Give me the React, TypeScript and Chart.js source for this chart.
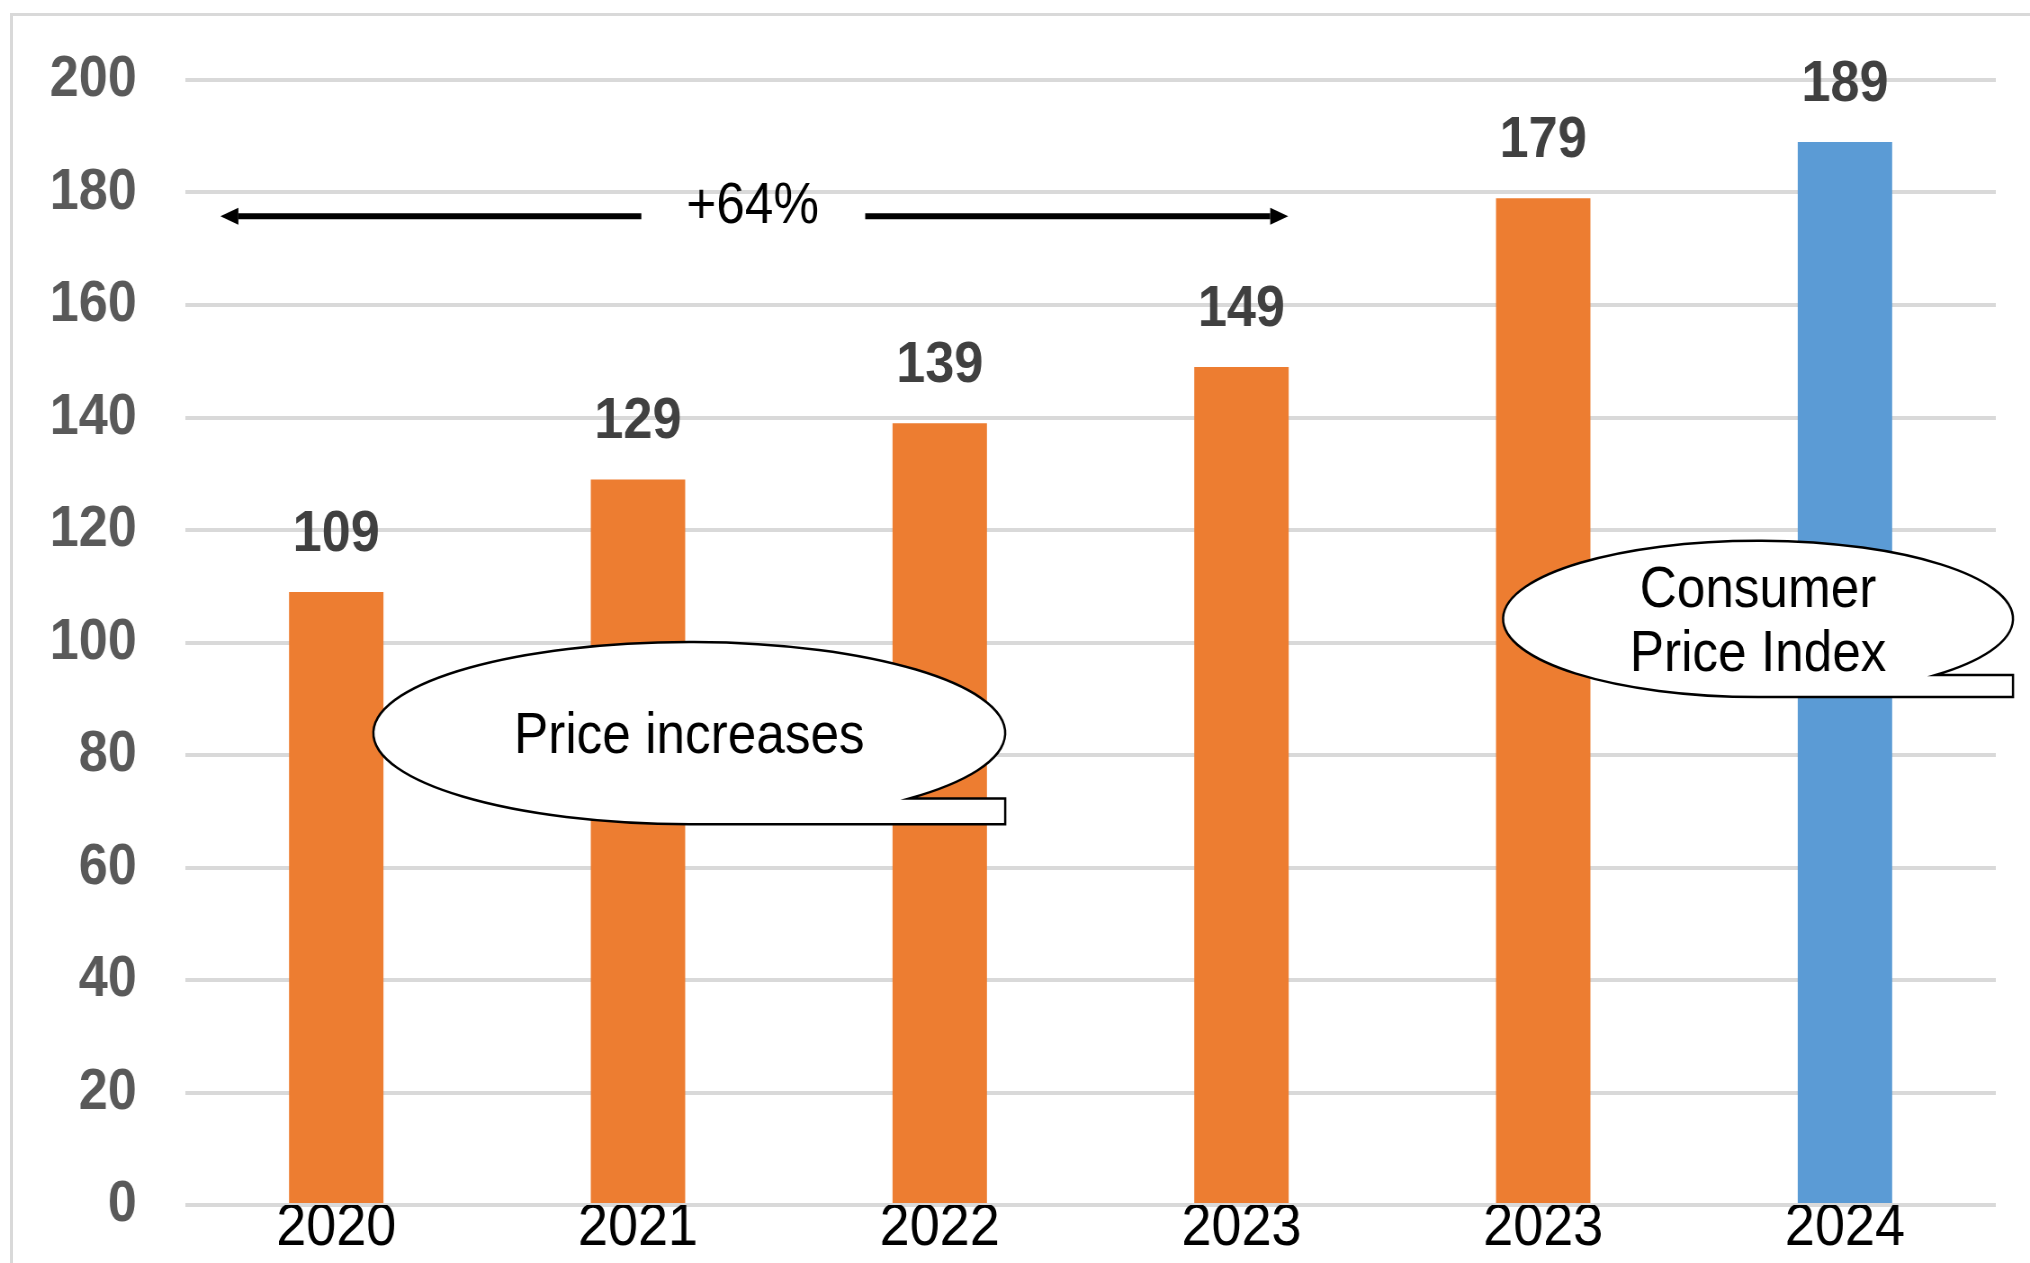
import React, { useEffect, useRef } from "react";
import { Chart, registerables } from "chart.js";

Chart.register(...registerables);

// ---- data ----
const categories = ["2020", "2021", "2022", "2023", "2023", "2024"];
const priceIndex = [109, 129, 139, 149, 179, 189];
const barColors = ["#ED7D31", "#ED7D31", "#ED7D31", "#ED7D31", "#ED7D31", "#5B9BD5"];
const yMin = 0;
const yMax = 200;
const yStep = 20;
const changeLabel = "+64%";
const bubbleTexts = [["Price increases"], ["Consumer", "Price Index"]];

// ---- annotation anchors (in category index / value units) ----
const arrowAnchor = { from: -0.384, to: 3.155, gapFrom: 1.011, gapTo: 1.753, value: 175.8, textAt: 1.38 };
const bubbleAnchors = [
  { cx: 1.17, cy: 83.9, rx: 1.047, ry: 16.2 },
  { cx: 4.712, cy: 104.2, rx: 0.845, ry: 13.9 },
];

// ---- layout ----
const OUT_W = 2030;
const OUT_H = 1263;
const SX = 0.9; // horizontal compression of the reference rendering
const IN_W = Math.round(OUT_W / SX);
const FONT = '"Liberation Sans", Arial, sans-serif';
const NOTE_SIZE = 57;

const valueLabels = {
  id: "valueLabels",
  afterDatasetsDraw(chart: any) {
    const ctx = chart.ctx;
    const meta = chart.getDatasetMeta(0);
    ctx.save();
    ctx.font = `bold 58px ${FONT}`;
    ctx.fillStyle = "#404040";
    ctx.textAlign = "center";
    ctx.textBaseline = "alphabetic";
    meta.data.forEach((bar: any, i: number) => {
      ctx.fillText(String(priceIndex[i]), bar.x, bar.y - 41);
    });
    ctx.restore();
  },
};

function drawArrowSeg(ctx: any, x0: number, x1: number, y: number) {
  const dir = x1 > x0 ? 1 : -1;
  const headLen = 20;
  const headHalf = 8.5;
  ctx.beginPath();
  ctx.moveTo(x0, y);
  ctx.lineTo(x1 - dir * headLen, y);
  ctx.stroke();
  ctx.beginPath();
  ctx.moveTo(x1, y);
  ctx.lineTo(x1 - dir * headLen, y - headHalf);
  ctx.lineTo(x1 - dir * headLen, y + headHalf);
  ctx.closePath();
  ctx.fill();
}

const annotations = {
  id: "annotations",
  afterDraw(chart: any) {
    const ctx = chart.ctx;
    const xs = chart.scales.x;
    const ys = chart.scales.y;
    ctx.save();

    // double arrow with label
    const ay = ys.getPixelForValue(arrowAnchor.value);
    ctx.strokeStyle = "#000";
    ctx.fillStyle = "#000";
    ctx.lineWidth = 6;
    drawArrowSeg(ctx, xs.getPixelForValue(arrowAnchor.gapFrom), xs.getPixelForValue(arrowAnchor.from), ay);
    drawArrowSeg(ctx, xs.getPixelForValue(arrowAnchor.gapTo), xs.getPixelForValue(arrowAnchor.to), ay);
    ctx.font = `${NOTE_SIZE}px ${FONT}`;
    ctx.textAlign = "center";
    ctx.textBaseline = "alphabetic";
    ctx.fillText(changeLabel, xs.getPixelForValue(arrowAnchor.textAt), ay + 7);

    // callout bubbles
    const t1 = 0.8;
    const capHalf = NOTE_SIZE * 0.358;
    bubbleAnchors.forEach((b, i) => {
      const cx = xs.getPixelForValue(b.cx);
      const cy = ys.getPixelForValue(b.cy);
      const rx = xs.getPixelForValue(b.cx + b.rx) - cx;
      const ry = ys.getPixelForValue(b.cy - b.ry) - cy;
      ctx.beginPath();
      ctx.ellipse(cx, cy, rx, ry, 0, t1, Math.PI / 2, true);
      ctx.lineTo(cx + rx, cy + ry);
      ctx.lineTo(cx + rx, cy + ry * Math.sin(t1));
      ctx.closePath();
      ctx.fillStyle = "#ffffff";
      ctx.fill();
      ctx.lineWidth = 2.5;
      ctx.strokeStyle = "#000";
      ctx.stroke();

      const lines = bubbleTexts[i];
      ctx.fillStyle = "#000";
      ctx.font = `${NOTE_SIZE}px ${FONT}`;
      ctx.textAlign = "center";
      ctx.textBaseline = "alphabetic";
      lines.forEach((ln, k) => {
        const by = cy + (k - (lines.length - 1) / 2) * 64 + capHalf;
        ctx.fillText(ln, cx, by);
      });
    });
    ctx.restore();
  },
};

export default function App() {
  const canvasRef = useRef<HTMLCanvasElement | null>(null);

  useEffect(() => {
    const canvas = canvasRef.current;
    if (!canvas) return;
    const chart = new Chart(canvas, {
      type: "bar",
      data: {
        labels: categories,
        datasets: [
          {
            data: priceIndex,
            backgroundColor: barColors,
            borderWidth: 0,
            barPercentage: 0.313,
            categoryPercentage: 1,
          },
        ],
      },
      options: {
        animation: false,
        responsive: false,
        devicePixelRatio: 1,
        layout: { padding: { left: 0, right: 38, top: 80, bottom: 0 } },
        plugins: {
          legend: { display: false },
          tooltip: { enabled: false },
        },
        scales: {
          x: {
            offset: true,
            grid: { display: false, drawTicks: false },
            border: { display: false },
            ticks: {
              color: "#000000",
              font: { family: FONT, size: 60 },
              padding: -13,
              maxRotation: 0,
              autoSkip: false,
            },
            afterFit: (s: any) => {
              s.height = 58;
              s.paddingLeft = 0;
              s.paddingRight = 0;
            },
          },
          y: {
            min: yMin,
            max: yMax,
            ticks: {
              stepSize: yStep,
              color: "#595959",
              font: { family: FONT, size: 58, weight: "bold" },
              padding: 54,
            },
            grid: { color: "#d9d9d9", lineWidth: 4, drawTicks: false },
            border: { display: false },
            afterFit: (s: any) => {
              s.width = 206;
              s.paddingTop = 0;
              s.paddingBottom = 0;
            },
          },
        },
      },
      plugins: [valueLabels, annotations],
    } as any);
    return () => chart.destroy();
  }, []);

  return (
    <div
      style={{
        position: "absolute",
        left: 0,
        top: 0,
        width: OUT_W,
        height: OUT_H,
        background: "#ffffff",
        overflow: "hidden",
      }}
    >
      <div
        style={{
          position: "absolute",
          left: 10,
          top: 13,
          width: OUT_W + 100,
          height: OUT_H + 100,
          borderLeft: "3px solid #d9d9d9",
          borderTop: "3px solid #d9d9d9",
        }}
      />
      <canvas
        ref={canvasRef}
        width={IN_W}
        height={OUT_H}
        style={{ position: "absolute", left: 0, top: 0, width: OUT_W + "px", height: OUT_H + "px", display: "block" }}
      />
    </div>
  );
}
